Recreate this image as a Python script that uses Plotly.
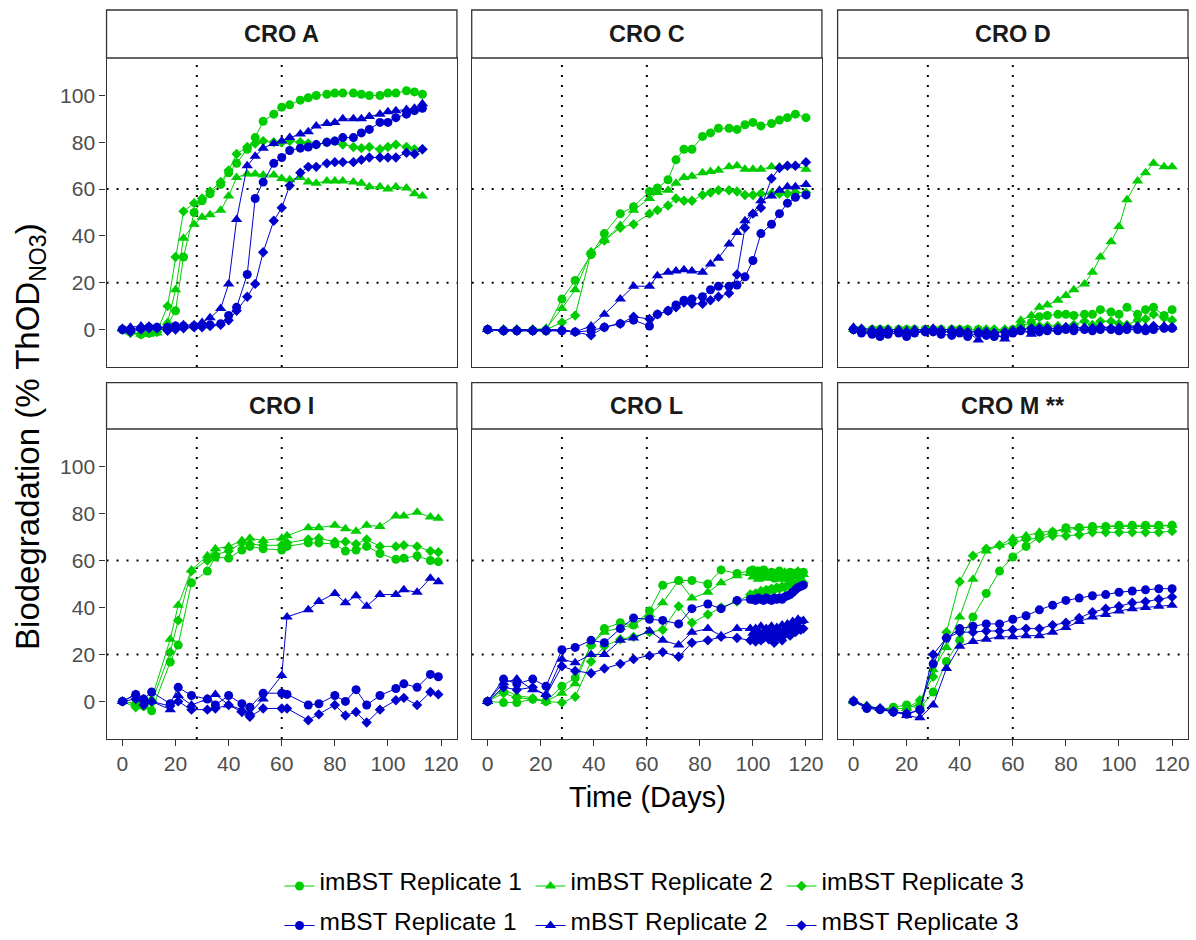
import plotly.graph_objects as go

# ---------------------------------------------------------------- data
DAYS_A = [0, 3, 7, 10, 13, 17, 20, 23, 27, 30, 33, 37, 40, 43, 47, 50, 53, 57, 60,
          63, 67, 70, 73, 77, 80, 83, 87, 90, 93, 97, 100, 103, 107, 110, 113]
DAYS_C = [0, 6, 11, 17, 22, 28, 33, 39, 44, 50, 55, 61, 64, 68, 71, 74, 77, 81, 84,
          87, 91, 94, 97, 100, 103, 107, 110, 113, 116, 120]
DAYS_D = [0, 3, 7, 10, 13, 17, 20, 23, 27, 30, 33, 37, 40, 43, 47, 50, 53, 57, 60,
          63, 67, 70, 73, 77, 80, 83, 87, 90, 93, 97, 100, 103, 107, 110, 113, 117, 120]
DAYS_I = [0, 5, 8, 11, 18, 21, 26, 32, 35, 40, 45, 48, 53, 60, 62, 70, 74, 80, 84,
          88, 92, 97, 103, 106, 111, 116, 119]
DAYS_L = [0, 6, 11, 17, 22, 28, 33, 39, 44, 50, 55, 61, 66, 72, 77, 83, 88, 94, 99,
          100, 101, 102, 103, 104, 105, 106, 107, 108, 109, 110, 111, 112, 113, 114,
          115, 116, 117, 118, 119]
DAYS_M = [0, 5, 10, 15, 20, 25, 30, 35, 40, 45, 50, 55, 60, 65, 70, 75, 80, 85, 90,
          95, 100, 105, 110, 115, 120]

# CRO A
A_IM1 = [0, -1, -2, -1.5, -1, 2, 8, 31, 50, 55, 58, 62, 67, 71, 77, 82, 89, 92, 95,
         96, 98, 99, 100, 100.5, 101, 101, 101, 100.5, 100, 100, 101, 101, 102, 101.5, 100.5]
A_IM2 = [0, -1, -2, -2, -1.5, 3, 17, 39, 45, 48, 49, 51, 57, 65, 66.5, 66.5, 66, 66, 64.5,
         64, 65, 63, 62.5, 63.5, 63.5, 63.5, 63, 62.5, 61, 61, 60, 61, 60.5, 58, 57]
A_IM3 = [0, -1.5, -2, -1.5, -1, 10, 31, 50.5, 54, 56, 59, 63, 68, 75, 78, 79.5, 80.5, 80, 80,
         80.5, 80, 79.5, 79, 80, 80.5, 79, 78, 77.5, 78, 77, 78, 79, 78, 77, 77]
A_M1 = [0, 0, 0.5, 1, 1, 1, 1.5, 1.5, 1.5, 2, 2, 2.5, 6, 9.5, 23.5, 56, 63, 71, 73.5,
        76.5, 77.5, 78, 79, 80, 80.5, 82, 82, 84, 85.5, 88.5, 88.5, 90.5, 92, 93.5, 94.5]
A_M2 = [0.5, 1, 1.5, 1.5, 1, 1, 1.5, 2, 2, 3, 5, 9, 19.5, 47, 70, 74, 77.5, 79.5, 80.5,
        82, 83.5, 84.5, 87, 88, 88.5, 90, 90, 90, 91, 92, 93, 93.5, 94, 94.5, 96.5]
A_M3 = [0, -1, 0, 0.5, 0.5, -0.5, 0, 0.5, 1, 1, 1.5, 2, 4, 8, 14, 19.5, 33, 46.5, 52,
        61.5, 67, 69.5, 69.5, 71, 71.5, 71.5, 71.5, 72.5, 73.5, 73.5, 73.5, 73.5, 75.5, 75, 77]

# CRO C
C_IM1 = [0, -0.5, -0.5, -0.5, -0.5, 13, 21, 32, 41, 49.5, 52.5, 59, 60.5, 64, 72.5,
         77, 77, 82.5, 84, 86, 86, 85.5, 87.5, 88.5, 87, 88, 89.5, 90.5, 92, 90.5]
C_IM2 = [0, 0, 0, 0, 0.5, 9, 17, 33, 38, 44.5, 51, 56, 58.5, 59.5, 62.5,
         65, 65.5, 67, 67.5, 68, 69.5, 70, 68.5, 68.5, 68.5, 69.5, 69.5, 70, 70, 68.5]
C_IM3 = [0, 0, 0, 0, 0, 3, 6, 33, 38, 43.5, 45, 49.5, 51, 53, 56,
         55, 55, 57.5, 58.5, 59.5, 59.5, 59, 57.5, 57.5, 58, 58, 58, 58, 58.5, 58.5]
C_M1 = [0, -0.5, -0.5, -0.5, -0.5, -0.5, -1, -0.5, 1, 2.5, 4, 1.5, 6.5, 8, 10.5,
        12.5, 13, 14, 17, 18.5, 18.5, 19, 22.5, 29.5, 41, 45, 49.5, 54, 56.5, 57.5]
C_M2 = [0, 0, 0, 0, 0, 0, -1, 1.5, 6.5, 13, 18.5, 18.5, 23, 24.5, 25,
        25.5, 25, 24.5, 28, 30.5, 36.5, 41.5, 46.5, 49.5, 55, 57, 59.5, 61, 61, 62]
C_M3 = [0, -0.5, -0.5, -0.5, -0.5, -0.5, -1, -2.5, 1, 2.5, 5.5, 4.5, 6.5, 8, 9.5,
        11.5, 11, 11, 12.5, 14, 15.5, 23.5, 43.5, 49.5, 52, 64.5, 69, 70, 70, 71.5]

# CRO D
D_IM1 = [0, 0, 0, 0, 0, 0, 0, 0, 0, 0, 0, 0, 0, 0, 0, -0.5, -0.5, -0.5,
         0, 1.5, 3, 5.5, 6, 6.5, 6.5, 6, 6.5, 6.5, 8.5, 7.5, 6.5, 9.5, 6.5, 8.5, 9.5, 6, 8.5]
D_IM2 = [0, 0, 0, 0, 0, 0, 0, 0, 0, 0, 0, 0, 0, 0, 0, 0, 0, 0,
         0, 4, 6, 9.5, 10.5, 12.5, 14.5, 17, 19.5, 24.5, 31, 37.5, 44, 55.5, 63.5, 67, 71, 69.5, 69.5]
D_IM3 = [0, 0, 0, 0, 0, 0, 0, 0, 0, 0, 0, 0, 0, 0, 0, 0, 0, 0,
         0, 0, 1, 1.5, 1.5, 1.5, 1, 2, 3.5, 2, 3.5, 3.5, 2.5, 2, 4, 4.5, 6.5, 5, 4]
D_M1 = [0, -1.5, -2, -3, -2, -1.5, -3, -1.5, -1, -1, -2, -2.5, -1.5, -3, -1.5, -2.5, -3, -3,
        -1.5, -0.5, -1, -1, -0.5, -0.5, 0, -0.5, 0, -0.5, 0, 0, -0.5, 0, 0, -0.5, 0, 0.5, 0.5]
D_M2 = [1, 0.5, 0, 0, 0, 0, -0.5, 0, 0, 0.5, 0, 0, -0.5, -1, -4.5, -1, -1.5, -4,
        -1, 0, -2, 0, 0.5, 0, 0.5, 0.5, 1, 0.5, 1.5, 0.5, 1, 1.5, 1.5, 1, 1, 1.5, 1]
D_M3 = [0, -1, -1.5, -1, -1, -1, -1.5, -1, -0.5, -0.5, -1, -1, -0.5, -1, -1, -1, -1.5, -1,
        -0.5, 0, 0.5, 0.5, 0.5, 0.5, 1, 1, 0.5, 0.5, 1, 0.5, 0.5, 1, 1, 0.5, 1.5, 1, 1]

# CRO I
I_IM1 = [0, -1, -2, -4, 16.8, 24, 50.5, 55.5, 61.5, 61, 64.5, 66, 65, 64.5, 66, 67.5,
         67.5, 67, 64, 64.5, 66, 63, 60.5, 61, 62, 60, 59.5]
I_IM2 = [0, -1, -2, 1, 26.5, 41, 56, 62, 65, 66, 68.5, 69.5, 68.5, 69.5, 70.5, 74,
         74, 75, 73.5, 72.5, 75, 74.5, 79, 79, 80.5, 78.5, 78]
I_IM3 = [0, -2.5, -2, -0.5, 21, 34.5, 55.5, 60, 62.5, 64, 67.5, 67, 66.5, 66.5, 67.5, 69,
         69.5, 68, 68, 67, 69, 66, 66, 66.5, 66, 64, 63.5]
I_M1 = [0, 3, 1, 4, -1, 6, 2.5, 1, -1.5, 2.5, -1, -2.5, 3.5, 3.5, 3, -1.5,
        -1, 2.5, 0, 5, -1.5, 2.5, 5.5, 7.5, 6, 11.5, 10.5]
I_M2 = [0, 3, 1, 0, -3.5, 2.5, -1.5, 1, 3, -1.5, -3.5, -5, 1, 11, 36, 39,
        42.5, 46, 42, 45, 40.5, 45.5, 45.5, 47.5, 46.5, 52.5, 51]
I_M3 = [0, 1, -1.5, 0, -2, 0, -3.5, -3.5, -3, -1.5, -4.5, -6.5, -3, -3, -3, -8,
        -5.5, -1.5, -6, -4.5, -9, -3.5, 0.5, 1.5, -1.5, 4, 3]

# CRO L
L_IM1 = [0, -0.5, -0.5, 1, 0, 6.5, 10, 24, 31, 33.5, 32.5, 38.5, 49.5, 51.5, 51.5, 50, 56, 54.5, 55.5,
         56, 54, 55.5, 53, 56, 54.5, 53.5, 55, 52.5, 54, 55.5, 53, 54, 52.5, 55, 53.5, 54.5, 55, 53.5, 55]
L_IM2 = [0, 5, 2.5, 1.5, 0, 3.5, 7.5, 24.5, 29.5, 31.5, 32.5, 37, 42, 51.5, 44, 46.5, 50.5, 53.5, 54.5,
         53, 55, 52, 54.5, 53, 55.5, 52.5, 54, 53.5, 55, 52, 54, 55, 53, 52.5, 54.5, 53, 55.5, 52.5, 54]
L_IM3 = [0, 3.5, 1.5, 1, 0, -0.5, 2, 17, 23.5, 26.5, 27.5, 29.5, 30.5, 40.5, 33.5, 37, 40, 42.5, 45.5,
         45, 46, 45.5, 47, 46.5, 47.5, 47, 48, 47.5, 48.5, 48, 49, 48.5, 49.5, 49, 50, 49.5, 50, 49.5, 50.5]
L_M1 = [0, 9.5, 7.5, 9.5, 6.5, 22, 23, 26, 25, 31, 35.5, 35, 34.5, 33, 39.5, 41.5, 39.5, 43, 43.5,
        43.5, 43, 44, 43.5, 43, 44, 43.5, 43, 44, 43.5, 44, 43.5, 44.5, 45, 45.5, 46.5, 47.5, 48.5, 49, 49.5]
L_M2 = [0, 8, 9.5, 5, 3, 18, 16.5, 20, 20, 26, 27, 30, 26, 24, 29.5, 31, 28, 31, 31,
        29, 31, 30, 32, 29.5, 31, 30.5, 32, 29, 31.5, 30, 32.5, 31, 33, 32, 34, 33, 35, 34, 34.5]
L_M3 = [0, 6, 5, 6, 2.5, 15, 13, 12, 14, 16, 18, 19.5, 21, 19, 25, 26, 27.5, 27, 26,
        27, 25.5, 28, 26, 27, 29, 26.5, 28, 25, 27.5, 29, 26, 28.5, 30, 28, 31, 29.5, 32, 30.5, 31]

# CRO M **
M_IM1 = [0, -2.5, -3.5, -2.5, -1.5, -3, 4, 17, 26, 36, 46, 55.5, 61.5, 66, 70, 72, 74, 74,
         74.5, 74.5, 75, 75, 75, 75, 75]
M_IM2 = [0, -2, -3, -3, -3, -1, 13.5, 23, 36, 52, 64, 66.5, 69.5, 70.5, 72, 72.5, 73, 74,
         74, 74.5, 74.5, 74.5, 74.5, 74.5, 75]
M_IM3 = [0, -2, -3, -3, -3, 0.5, 10.5, 29.5, 51, 62, 65, 66.5, 67.5, 69, 69.5, 70.5, 70.5, 71,
         72, 72, 72, 72, 72, 72, 72.5]
M_M1 = [0, -3, -3.5, -4.5, -5.5, -3.5, 16, 27, 31, 32, 33, 33, 35, 36.5, 39, 41, 43, 44,
        45, 45.5, 46.5, 47, 47.5, 48, 48]
M_M2 = [0.5, -2, -3, -4, -6, -7, -1.5, 14, 23.5, 25.5, 26.5, 27.5, 27.5, 28, 28, 29.5, 31.5, 34,
        36, 37, 38.5, 39.5, 40, 40.5, 41]
M_M3 = [0, -2.5, -3, -4.5, -5, -4, 20, 27, 29.5, 29.5, 30, 30, 30.5, 31, 31, 32.5, 33.5, 35.5,
        38, 39.5, 40.5, 42, 42.5, 43.5, 44.5]

PANEL_TITLES = ["CRO A", "CRO C", "CRO D", "CRO I", "CRO L", "CRO M **"]
PANEL_DAYS = [DAYS_A, DAYS_C, DAYS_D, DAYS_I, DAYS_L, DAYS_M]
PANEL_SERIES = [
    [A_IM1, A_IM2, A_IM3, A_M1, A_M2, A_M3],
    [C_IM1, C_IM2, C_IM3, C_M1, C_M2, C_M3],
    [D_IM1, D_IM2, D_IM3, D_M1, D_M2, D_M3],
    [I_IM1, I_IM2, I_IM3, I_M1, I_M2, I_M3],
    [L_IM1, L_IM2, L_IM3, L_M1, L_M2, L_M3],
    [M_IM1, M_IM2, M_IM3, M_M1, M_M2, M_M3],
]
SERIES_NAMES = ["imBST Replicate 1", "imBST Replicate 2", "imBST Replicate 3",
                "mBST Replicate 1", "mBST Replicate 2", "mBST Replicate 3"]
X_TICKS = [0, 20, 40, 60, 80, 100, 120]
Y_TICKS = [0, 20, 40, 60, 80, 100]
REF_DAYS = [28, 60]
REF_LEVELS = [20, 60]

# ---------------------------------------------------------------- style
GREEN = "#00CD00"
BLUE = "#0000CD"
FONT = "Liberation Sans, Arial, sans-serif"
BORDER = "#333333"
W, H = 1196, 940

series_style = [
    dict(color=GREEN, symbol="circle", size=9, legend="legend"),
    dict(color=GREEN, symbol="triangle-up", size=10, legend="legend"),
    dict(color=GREEN, symbol="diamond", size=8, legend="legend"),
    dict(color=BLUE, symbol="circle", size=9, legend="legend2"),
    dict(color=BLUE, symbol="triangle-up", size=10, legend="legend2"),
    dict(color=BLUE, symbol="diamond", size=8, legend="legend2"),
]

# panel boxes in pixels (left, right) and (top, bottom)
col_px = [(106.7, 457.7), (472.5, 823.3), (839.0, 1190.0)]
row_px = [(58.0, 367.0), (429.0, 739.0)]
strip_px = [(10.0, 58.0), (382.7, 429.0)]

# legend entries: large label text inside a compact legend row
LEGEND_TEXT_PX = 24.5


def legend_label(name):
    return '<span style="font-size:%spx">%s</span>' % (LEGEND_TEXT_PX, name)


fig = go.Figure()

for p in range(6):
    r, c = divmod(p, 3)
    ax = "" if p == 0 else str(p + 1)
    for s in range(6):
        st = series_style[s]
        fig.add_trace(go.Scatter(
            x=PANEL_DAYS[p], y=PANEL_SERIES[p][s],
            mode="lines+markers",
            name=legend_label(SERIES_NAMES[s]),
            legend=st["legend"],
            showlegend=(p == 0),
            line=dict(color=st["color"], width=1),
            marker=dict(color=st["color"], symbol=st["symbol"], size=st["size"],
                        line=dict(width=0)),
            xaxis="x" + ax, yaxis="y" + ax,
        ))

    x0, x1 = col_px[c]
    y0, y1 = row_px[r]
    fig.layout["xaxis" + ax] = dict(
        domain=[x0 / W, x1 / W], anchor="y" + ax, range=[-6, 126],
        tickvals=X_TICKS, showticklabels=(r == 1),
        ticks="outside" if r == 1 else "", ticklen=6, tickwidth=1.3, tickcolor=BORDER,
        showgrid=False, zeroline=False, showline=True, mirror=True,
        linecolor=BORDER, linewidth=1.3,
        tickfont=dict(family=FONT, size=21, color="#4D4D4D"),
    )
    fig.layout["yaxis" + ax] = dict(
        domain=[1 - y1 / H, 1 - y0 / H], anchor="x" + ax, range=[-16, 116],
        tickvals=Y_TICKS, showticklabels=(c == 0),
        ticks="outside" if c == 0 else "", ticklen=6, tickwidth=1.3, tickcolor=BORDER,
        showgrid=False, zeroline=False, showline=True, mirror=True,
        linecolor=BORDER, linewidth=1.3,
        tickfont=dict(family=FONT, size=21, color="#4D4D4D"),
    )

    # dotted reference lines
    for d in REF_DAYS:
        fig.add_shape(type="line", xref="x" + ax, yref="y" + ax + " domain",
                      x0=d, x1=d, y0=0, y1=1, layer="below",
                      line=dict(color="black", width=2, dash="2px,8px"))
    for v in REF_LEVELS:
        fig.add_shape(type="line", xref="x" + ax + " domain", yref="y" + ax,
                      x0=0, x1=1, y0=v, y1=v, layer="below",
                      line=dict(color="black", width=2, dash="2px,8px"))

    # facet strip
    s0, s1 = strip_px[r]
    fig.add_shape(type="rect", xref="paper", yref="paper",
                  x0=x0 / W, x1=x1 / W, y0=1 - s1 / H, y1=1 - s0 / H,
                  fillcolor="white", line=dict(color=BORDER, width=1.3))
    fig.add_annotation(xref="paper", yref="paper", x=(x0 + x1) / 2 / W,
                       y=1 - (s0 + s1) / 2 / H, text="<b>%s</b>" % PANEL_TITLES[p],
                       showarrow=False, xanchor="center", yanchor="middle",
                       font=dict(family=FONT, size=23.5, color="#1A1A1A"))

# axis titles
fig.add_annotation(xref="paper", yref="paper", x=648.4 / W, y=1 - 797 / H,
                   text="Time (Days)", showarrow=False,
                   xanchor="center", yanchor="middle",
                   font=dict(family=FONT, size=29, color="black"))
fig.add_annotation(xref="paper", yref="paper", x=30 / W, y=1 - 436 / H,
                   text="Biodegradation (% ThOD<sub>NO3</sub>)", showarrow=False,
                   textangle=-90, xanchor="center", yanchor="middle",
                   font=dict(family=FONT, size=33, color="black"))

legend_common = dict(
    orientation="h", xanchor="left",
    entrywidth=206, entrywidthmode="pixels",
    font=dict(family=FONT, size=11, color="black"),
    bgcolor="rgba(0,0,0,0)", itemclick=False, itemdoubleclick=False,
)

fig.update_layout(
    width=W, height=H,
    margin=dict(l=0, r=0, t=0, b=0),
    paper_bgcolor="white", plot_bgcolor="white",
    legend=dict(x=280 / W, y=1 - 886 / H, yanchor="middle", **legend_common),
    legend2=dict(x=280 / W, y=0, yanchor="bottom", **legend_common),
)

fig.write_html("out.html")
